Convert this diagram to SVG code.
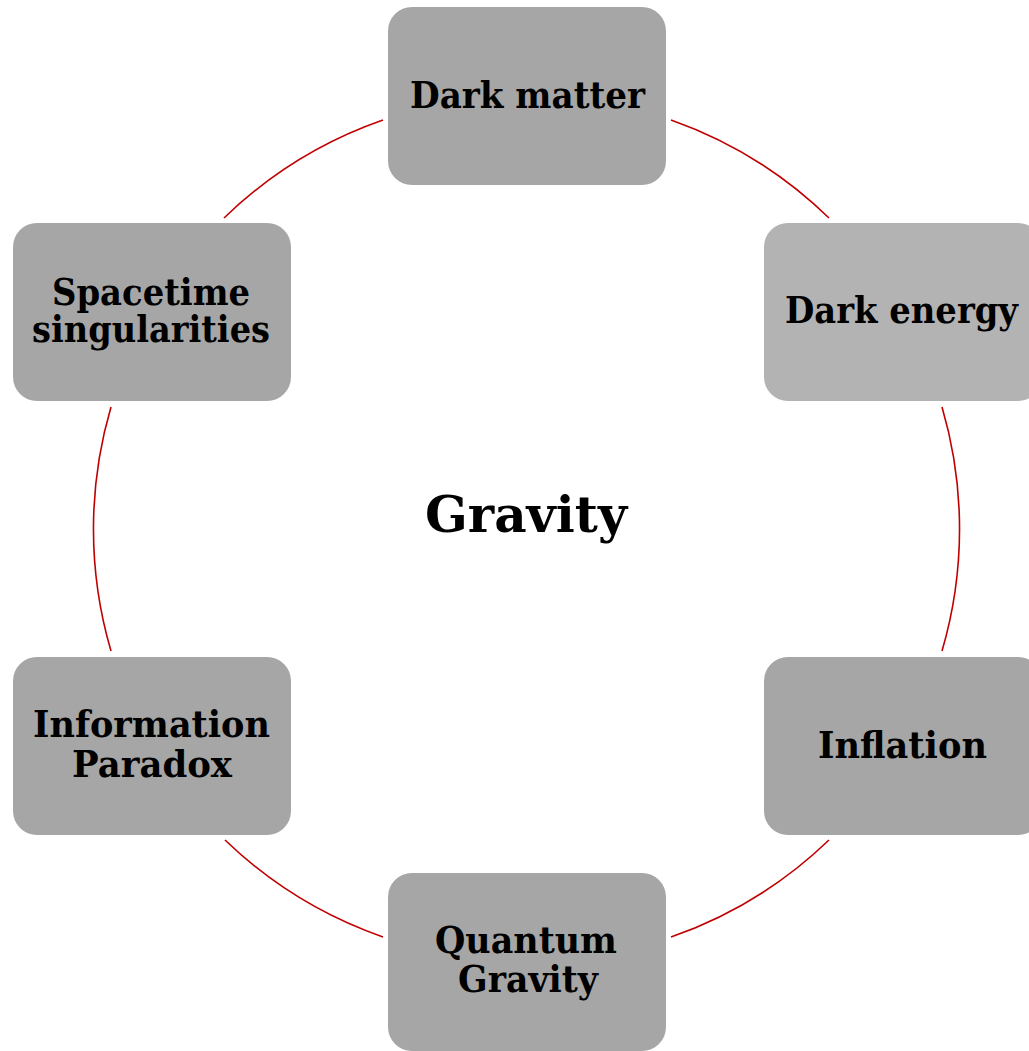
<svg xmlns="http://www.w3.org/2000/svg" width="1029" height="1051" viewBox="0 0 1029 1051">
<style>
.box{fill:#a6a6a6;}
.lbl{font-family:"DejaVu Serif","Liberation Serif",serif;font-weight:bold;font-size:37px;fill:#000;text-anchor:middle;}
.title{font-family:"DejaVu Serif","Liberation Serif",serif;font-weight:bold;font-size:51px;fill:#000;text-anchor:middle;}
.arc{fill:none;stroke:#c00000;stroke-width:1.6;}
</style>
<rect width="1029" height="1051" fill="#ffffff"/>
<g id="connectors">
<path class="arc" d="M224,218 A433,433 0 0 1 383,120"/>
<path class="arc" d="M671,120 A433,433 0 0 1 829,218"/>
<path class="arc" d="M942,407 A433,433 0 0 1 942,651"/>
<path class="arc" d="M829,840 A433,433 0 0 1 671,937"/>
<path class="arc" d="M383,937 A433,433 0 0 1 225,840"/>
<path class="arc" d="M111,651 A433,433 0 0 1 111,407"/>
</g>
<g id="center">
<text class="title" x="526" y="532" textLength="202" lengthAdjust="spacingAndGlyphs">Gravity</text>
</g>
<g id="dark-matter">
<rect class="box" x="388" y="7" width="278" height="178" rx="24"/>
<text class="lbl" x="527.5" y="108" textLength="235" lengthAdjust="spacingAndGlyphs">Dark matter</text>
</g>
<g id="dark-energy">
<rect class="box" x="764" y="223" width="278" height="178" rx="24" style="fill:#b3b3b3"/>
<text class="lbl" x="901.5" y="323" textLength="233" lengthAdjust="spacingAndGlyphs">Dark energy</text>
</g>
<g id="inflation">
<rect class="box" x="764" y="657" width="278" height="178" rx="24"/>
<text class="lbl" x="902.5" y="758" textLength="169" lengthAdjust="spacingAndGlyphs">Inflation</text>
</g>
<g id="quantum-gravity">
<rect class="box" x="388" y="873" width="278" height="178" rx="24"/>
<text class="lbl" x="526" y="953" textLength="182" lengthAdjust="spacingAndGlyphs">Quantum</text>
<text class="lbl" x="528" y="992" textLength="140" lengthAdjust="spacingAndGlyphs">Gravity</text>
</g>
<g id="information-paradox">
<rect class="box" x="13" y="657" width="278" height="178" rx="24"/>
<text class="lbl" x="151.5" y="737" textLength="237" lengthAdjust="spacingAndGlyphs">Information</text>
<text class="lbl" x="152" y="777" textLength="160" lengthAdjust="spacingAndGlyphs">Paradox</text>
</g>
<g id="spacetime-singularities">
<rect class="box" x="13" y="223" width="278" height="178" rx="24"/>
<text class="lbl" x="151" y="305" textLength="198" lengthAdjust="spacingAndGlyphs">Spacetime</text>
<text class="lbl" x="151" y="342" textLength="238" lengthAdjust="spacingAndGlyphs">singularities</text>
</g>
</svg>
